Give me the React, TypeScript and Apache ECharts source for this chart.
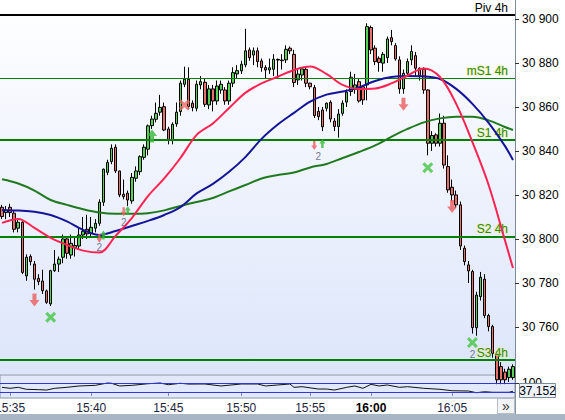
import React, { useEffect, useRef } from "react";
import * as echarts from "echarts";

const FONT = "'Liberation Sans', Arial, sans-serif";

// ---- candles (15-second bars) ----
const opens = [30814.4,30812,30814.4,30811.7,30804.9,30807.6,30783.2,30792,30788.6,30782.1,
 30780.9,30776.4,30770.5,30785.6,30788.6,30791.7,30800,30792.7,30796,30796.8,
 30801.8,30804.4,30802.6,30804.9,30807.1,30816.7,30830.3,30835.2,30841.7,30830.9,
 30820.3,30820.8,30817.3,30827.6,30830.6,30837.1,30840.8,30851.5,30854.4,30857.6,
 30860.1,30850,30845,30852.3,30857.9,30870.3,30872.6,30861.7,30859.4,30870,
 30871.2,30860.9,30868.2,30862.7,30867.7,30867.7,30862.7,30870.8,30875,30876.4,
 30879.1,30885.9,30883.6,30885.5,30880.9,30877.9,30876.8,30877.1,30881.3,30881.3,
 30881.4,30886.7,30883.9,30872.3,30874.5,30877.1,30870.8,30868.8,30858,30858.6,
 30859.4,30862.1,30853.6,30851.1,30857.1,30862.2,30867,30868,30871.5,30869.2,
 30870,30896.1,30886.7,30882.1,30879.9,30882.4,30891.5,30887.9,30881.4,30868.2,
 30875.3,30881.4,30883.3,30877.6,30877.2,30867.7,30843.5,30847.3,30843.5,30852.6,
 30832.9,30823.5,30820,30815.5,30795.8,30788.2,30785.2,30759.7,30773.8,30781.7,
 30765.2,30760.2,30747.6,30742,30739.5,30737,30737];
const closes = [30810.2,30813,30812,30804.4,30807.6,30784.8,30791.7,30789.7,30781.7,30780.6,
 30776.5,30771.2,30785.6,30788.6,30790.8,30800,30793.5,30798,30797,30801.8,
 30803.5,30802.3,30805.3,30807.1,30816.7,30831.7,30834.8,30841.2,30830.9,30820,
 30819.2,30817.7,30828,30830.9,30837.4,30841.7,30851.4,30854.5,30857.1,30859.8,
 30849.5,30844.7,30852.1,30857.6,30870.8,30872.6,30860.2,30859.7,30870.3,30871.5,
 30861.2,30868.2,30862.7,30869.5,30870.3,30862.7,30870.8,30875.6,30876.5,30879.4,
 30885.5,30882.4,30885.5,30880.6,30877.9,30876.8,30877.8,30881.7,30881.6,30881,
 30886.2,30885.5,30871.1,30874.9,30877.3,30870.8,30869.2,30856.1,30855.6,30851,
 30861.7,30854.5,30851.1,30856.8,30861.7,30866.7,30873.5,30870,30862.7,30863.2,
 30896.5,30885.9,30880.6,30880.2,30883.9,30890.9,30889.7,30881.8,30868.2,30875.3,
 30880.6,30885.2,30877.6,30874,30867.7,30843.5,30847,30843.5,30852.6,30833.6,
 30822.3,30820,30815.5,30796.8,30789.7,30785.5,30759.7,30774.5,30782.6,30765.2,
 30760.2,30748,30736,30736,30736,30740.8,30742];
const lows = [30809,30809,30810,30803,30803,30784,30781,30788,30777,30779,
 30775,30770.5,30769.5,30785,30785,30789,30791,30791,30792,30795,
 30800,30800,30801,30803,30806,30815,30829,30834,30830,30819,
 30818,30815,30816,30826,30829,30836,30838,30850,30853,30856,
 30849,30843,30843,30851,30856,30869,30859,30858,30858,30868,
 30860,30859,30858,30861,30866,30861,30861,30869,30873,30875,
 30878,30881,30879,30878,30876,30873,30875,30874,30873,30877,
 30880,30884,30869,30870,30872,30869,30868,30855,30854,30849,
 30858,30853,30849,30846,30856,30860,30865,30866,30862,30861,
 30863,30884,30879,30876,30876,30880,30888,30881,30866,30866,
 30874,30879,30874,30872,30866,30838,30840,30842,30842,30832,
 30821,30817,30814,30795,30788,30780,30757,30756,30772,30764,
 30758,30746,30734,30734,30734,30735,30736];
const highs = [30815.5,30815,30816,30813,30809,30808,30793,30793,30790,30784,
 30786,30777,30786,30795,30792,30802,30801,30802,30801,30805,
 30810,30811,30810,30809,30818,30832,30836,30843,30843,30831,
 30827,30822,30830,30833,30838,30843,30852,30856,30862,30865.5,
 30862,30851,30853,30862,30872,30878.3,30878,30863,30872,30874,
 30873,30870,30870,30872,30872,30869,30872,30878,30879,30881,
 30895.5,30887,30887,30887,30882,30879,30882,30884,30882,30884,
 30888,30887.5,30886,30877,30878,30878,30871,30870,30860,30860,
 30862,30863,30855,30859,30863,30868,30876,30875,30873,30870,
 30898,30897,30888,30883,30885,30892,30895,30889,30883,30877,
 30882,30888,30885,30878,30878,30868,30849,30848,30857,30856,
 30838,30827,30822,30817,30797,30790,30786,30776,30785,30784,
 30766,30761,30749,30744,30741,30742,30743];

// ---- time axis ----
const tickIndex = [2, 22, 41, 59, 76, 91, 111];
const tickLabels = ["15:35", "15:40", "15:45", "15:50", "15:55", "16:00", "16:05"];
const boldTick = "16:00";

// ---- price axis ----
const priceMin = 30738.4;
const priceMax = 30908.6;
const priceTicks = [30760, 30780, 30800, 30820, 30840, 30860, 30880, 30900];

// ---- moving averages ----
const maIndex = [0,4,8,12,16,20,24,28,32,36,40,44,48,52,56,60,64,68,72,76,80,84,88,92,96,100,104,108,112,116,120,124,126];
const redMA = [30807.3,30809.1,30805,30800.5,30797.3,30794.7,30793.8,30801.4,30809.5,30819.5,30827.5,30836.8,30847.3,30852.5,30859.5,30866.4,30870.7,30873.7,30876.8,30878.4,30875,30870,30868.2,30868.4,30870.7,30874.3,30877.5,30873.6,30861.4,30844,30824.5,30799.5,30786.8];
const blueMA = [30813.2,30812.9,30812.4,30810.9,30808,30804.1,30801.8,30803.6,30805.9,30808.2,30810.9,30814.5,30820.7,30825,30830.5,30837.2,30845.5,30852,30857.3,30862.4,30865.6,30867,30868.9,30871.8,30873.6,30874.1,30873.9,30872.7,30868.2,30861.4,30852.8,30842.3,30835.9];
const greenMA = [30827.1,30825.2,30822,30817.7,30815.5,30813.5,30812,30811.4,30811.4,30811.7,30813,30815,30816.8,30818.6,30821.6,30824.5,30827.5,30829.1,30830.2,30832.5,30834.1,30836.8,30839.5,30842.5,30846.4,30850,30853,30854.8,30855.5,30855.5,30853.9,30850.9,30849.5];

// ---- pivot levels ----
const pivotNames = ["Piv 4h", "mS1 4h", "S1 4h", "S2 4h", "S3 4h"];
const pivotValues = [30901.8, 30873.0, 30845.0, 30801.2, 30744.9];

// ---- signals ----
const sellArrowIdx = [8, 99, 111];
const sellArrowVal = [30772.3, 30861.2, 30814.7];
const buyArrowIdx = [37];
const buyArrowVal = [30846.8];
const smallSellIdx = [24, 30, 77];
const smallSellVal = [30800.3, 30812.4, 30842.5];
const smallBuyIdx = [25, 31, 79];
const smallBuyVal = [30801.8, 30812.9, 30843.4];
const greenCrossIdx = [12, 105, 116];
const greenCrossVal = [30764.4, 30832.4, 30752.9];
const redCrossIdx = [45];
const redCrossVal = [30860.9];
const countIdx = [24, 30, 78, 116];
const countVal = [30795.9, 30807.4, 30837.4, 30747.7];
const countText = ["2", "2", "2", "2"];

// ---- oscillator pane ----
const oscMin = -66.7;
const oscMax = 188.9;
const oscLevels = [100, 0];
const oscTicks = [100];
const oscIndex = [0,2,4,6,9,11,13,16,19,23,26,27,29,32,36,39,41,44,46,50,54,59,63,65,68,71,72,74,78,80,82,85,87,89,91,93,95,98,100,104,108,111,115,117,119,121,125,126];
const oscValues = [52,41,52,30,26,22,41,52,67,74,100,97,67,74,92,100,81,97,88,89,67,89,89,67,78,89,52,59,33,33,22,52,67,41,85,67,78,52,59,41,30,14,11,-8,3,-3,-3,8];
const lastValueText = "37,152";

const DOWN = "path://M3,0 L7,0 L7,6 L10,6 L5,12 L0,6 L3,6 Z";
const UP = "path://M5,0 L10,6 L7,6 L7,12 L3,12 L3,6 L0,6 Z";
const CROSS = "path://M0,2 L2,0 L5,3 L8,0 L10,2 L7,5 L10,8 L8,10 L5,7 L2,10 L0,8 L3,5 Z";

function pairs(idx: number[], vals: number[]) {
  return idx.map((k, j) => [k, vals[j]]);
}

function buildOption() {
  const categories = opens.map((_, i) => String(i));
  const showTick = (index: number) => tickIndex.indexOf(index) >= 0;
  const fmtTime = (_v: string, index: number) => {
    const j = tickIndex.indexOf(index);
    if (j < 0) return "";
    const t = tickLabels[j];
    return t === boldTick ? "{b|" + t + "}" : t;
  };
  const fmtPrice = (v: number) => {
    const s = String(Math.round(v));
    return s.slice(0, s.length - 3) + " " + s.slice(s.length - 3);
  };
  const greenLbl = "#2f8a1e";
  return {
    animation: false,
    backgroundColor: "#ffffff",
    textStyle: { fontFamily: FONT },
    grid: [
      {
        left: 0, top: 0, width: 515, height: 374.5, show: true, borderWidth: 0, outerBoundsMode: "none",
        backgroundColor: {
          type: "linear", x: 0, y: 0, x2: 0, y2: 1,
          colorStops: [{ offset: 0, color: "#ffffff" }, { offset: 1, color: "#dce5fa" }],
        },
      },
      {
        left: 0, top: 375, width: 515, height: 23, show: true, outerBoundsMode: "none",
        backgroundColor: "#e2e9fb", borderColor: "#8796a6", borderWidth: 1,
      },
    ],
    xAxis: [
      {
        type: "category", gridIndex: 0, data: categories, boundaryGap: true,
        axisLine: { show: false }, axisTick: { show: false }, axisLabel: { show: false },
        splitLine: { show: false },
      },
      {
        type: "category", gridIndex: 1, data: categories, boundaryGap: true, position: "bottom",
        axisLine: { show: true, lineStyle: { color: "#8796a6" } },
        axisTick: { show: true, alignWithLabel: true, interval: showTick, length: 4, lineStyle: { color: "#7f8e9e" } },
        axisLabel: {
          interval: showTick, formatter: fmtTime, margin: 4, fontSize: 12, color: "#1d2640", fontFamily: FONT,
          alignMinLabel: "center", alignMaxLabel: "center", hideOverlap: false,
          rich: { b: { fontWeight: "bold", color: "#000", fontSize: 12, fontFamily: FONT } },
        },
        splitLine: { show: false },
      },
    ],
    yAxis: [
      {
        type: "value", gridIndex: 0, position: "right", min: priceMin, max: priceMax,
        splitLine: { show: false },
        axisLine: { show: true, lineStyle: { color: "#7d8b99" } },
        axisTick: { show: true, customValues: priceTicks, length: 4, lineStyle: { color: "#333" } },
        axisLabel: { customValues: priceTicks, formatter: fmtPrice, margin: 7, color: "#000", fontSize: 12, fontFamily: FONT },
      },
      {
        type: "value", gridIndex: 1, position: "right", min: oscMin, max: oscMax,
        splitLine: { show: false },
        axisLine: { show: true, lineStyle: { color: "#7d8b99" } },
        axisTick: { show: true, customValues: oscTicks, length: 4, lineStyle: { color: "#333" } },
        axisLabel: { customValues: oscTicks, formatter: (v: number) => String(v), margin: 7, color: "#000", fontSize: 12, fontFamily: FONT },
      },
    ],
    series: [
      {
        type: "candlestick", xAxisIndex: 0, yAxisIndex: 0, z: 2, clip: true,
        barWidth: 3,
        data: opens.map((o, i) => [o, closes[i], lows[i], highs[i]]),
        itemStyle: { color: "#56d056", color0: "#e6716a", borderColor: "#000", borderColor0: "#000", borderWidth: 1 },
        markLine: {
          silent: true, symbol: ["none", "none"], z: 3,
          data: pivotValues.map((v, i) => ({
            yAxis: v, name: pivotNames[i],
            lineStyle: { color: i === 0 ? "#000" : "#008000", width: i === 1 ? 1 : 2, type: "solid" },
            label: {
              show: true, position: "insideEndTop", formatter: "{b}", fontSize: 12, fontFamily: FONT,
              color: i === 0 ? "#000" : greenLbl, distance: [7, 1],
              textBorderColor: i === 0 ? "transparent" : "rgba(236,236,120,0.85)", textBorderWidth: i === 0 ? 0 : 1,
            },
          })),
        },
      },
      {
        type: "scatter", xAxisIndex: 0, yAxisIndex: 0, z: 3, symbolSize: 1,
        data: pairs(countIdx, countVal),
        itemStyle: { color: "transparent" },
        label: {
          show: true, position: "inside", fontSize: 10, color: "#50567a", fontFamily: FONT,
          formatter: (p: any) => countText[p.dataIndex],
        },
      },
      {
        type: "line", xAxisIndex: 0, yAxisIndex: 0, z: 4, smooth: 0.35, showSymbol: false,
        data: pairs(maIndex, greenMA), lineStyle: { color: "#1f7a1f", width: 2 }, itemStyle: { color: "#1f7a1f" },
      },
      {
        type: "line", xAxisIndex: 0, yAxisIndex: 0, z: 4, smooth: 0.35, showSymbol: false,
        data: pairs(maIndex, blueMA), lineStyle: { color: "#14149a", width: 2 }, itemStyle: { color: "#14149a" },
      },
      {
        type: "line", xAxisIndex: 0, yAxisIndex: 0, z: 4, smooth: 0.35, showSymbol: false,
        data: pairs(maIndex, redMA), lineStyle: { color: "#ff2352", width: 2 }, itemStyle: { color: "#ff2352" },
      },
      {
        type: "scatter", xAxisIndex: 0, yAxisIndex: 0, z: 6, symbol: DOWN, symbolSize: [10, 13],
        data: pairs(sellArrowIdx, sellArrowVal), itemStyle: { color: "#ea5c5c" },
      },
      {
        type: "scatter", xAxisIndex: 0, yAxisIndex: 0, z: 6, symbol: UP, symbolSize: [10, 13],
        data: pairs(buyArrowIdx, buyArrowVal), itemStyle: { color: "#36b836" },
      },
      {
        type: "scatter", xAxisIndex: 0, yAxisIndex: 0, z: 6, symbol: DOWN, symbolSize: [6, 9],
        data: pairs(smallSellIdx, smallSellVal), itemStyle: { color: "#ea5c5c" },
      },
      {
        type: "scatter", xAxisIndex: 0, yAxisIndex: 0, z: 6, symbol: UP, symbolSize: [6, 9],
        data: pairs(smallBuyIdx, smallBuyVal), itemStyle: { color: "#36b836" },
      },
      {
        type: "scatter", xAxisIndex: 0, yAxisIndex: 0, z: 6, symbol: CROSS, symbolSize: [11, 11],
        data: pairs(greenCrossIdx, greenCrossVal), itemStyle: { color: "#45c445" },
      },
      {
        type: "scatter", xAxisIndex: 0, yAxisIndex: 0, z: 6, symbol: CROSS, symbolSize: [11, 11],
        data: pairs(redCrossIdx, redCrossVal), itemStyle: { color: "#ec6b66" },
      },
      {
        type: "line", xAxisIndex: 1, yAxisIndex: 1, z: 3, showSymbol: false, smooth: false,
        data: pairs(oscIndex, oscValues), lineStyle: { color: "#111", width: 1 }, itemStyle: { color: "#111" },
        markLine: {
          silent: true, symbol: ["none", "none"],
          data: oscLevels.map((v) => ({ yAxis: v })),
          lineStyle: { color: "#3535e0", width: 1, type: "solid" },
          label: { show: false },
        },
      },
    ],
    graphic: [
      { type: "rect", z: 100, shape: { x: 0, y: 414, width: 565, height: 6 }, style: { fill: "#a7b5c4" } },
      { type: "line", z: 100, shape: { x1: 515.5, y1: 398, x2: 515.5, y2: 414 }, style: { stroke: "#8796a6", lineWidth: 1 } },
      { type: "rect", z: 100, shape: { x: 497.5, y: 398.5, width: 17, height: 15 }, style: { fill: "#f3f4f6", stroke: "#b4bcc6", lineWidth: 1 } },
      { type: "text", z: 101, x: 506, y: 406, style: { text: "»", fill: "#333", font: "14px " + FONT, align: "center", verticalAlign: "middle" } },
      { type: "rect", z: 100, shape: { x: 519.5, y: 383.5, width: 36, height: 14 }, style: { fill: "#eef2fa", stroke: "#7a8a9a", lineWidth: 1 } },
      { type: "text", z: 101, x: 537.5, y: 391, style: { text: lastValueText, fill: "#000", font: "12px " + FONT, align: "center", verticalAlign: "middle" } },
    ],
  };
}

export default function App() {
  const ref = useRef<HTMLDivElement>(null);
  useEffect(() => {
    if (!ref.current) return;
    const chart = echarts.init(ref.current, undefined, { renderer: "svg" });
    chart.setOption(buildOption() as any);
    return () => chart.dispose();
  }, []);
  return <div ref={ref} style={{ position: "fixed", left: 0, top: 0, width: 565, height: 420 }} />;
}
